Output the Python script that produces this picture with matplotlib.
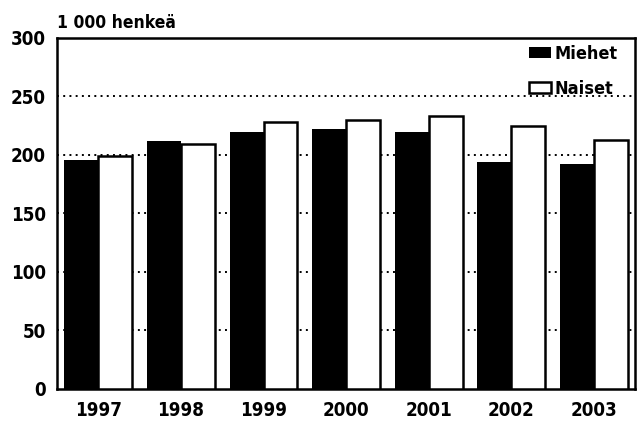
import matplotlib
matplotlib.use("Agg")
import matplotlib.pyplot as plt
import numpy as np

plt.rcParams['font.family'] = ['DejaVu Sans']
plt.rcParams['font.stretch'] = 'condensed'

years = ['1997', '1998', '1999', '2000', '2001', '2002', '2003']
miehet = [196, 212, 220, 222, 220, 194, 192]
naiset = [199, 209, 228, 230, 233, 225, 213]
yticks = [0, 50, 100, 150, 200, 250, 300]

fig = plt.figure(figsize=(6.41, 4.26), dpi=100)
ax = fig.add_axes([0.089, 0.087, 0.902, 0.824])

x = np.arange(len(years))
w = 0.41
ax.bar(x - w / 2, miehet, w, color='black', edgecolor='black', linewidth=0, label='Miehet', zorder=3)
ax.bar(x + w / 2, naiset, w, color='white', edgecolor='black', linewidth=1.8, label='Naiset', zorder=3)

ax.set_xlim(-0.5, len(years) - 0.5)
ax.set_ylim(0, 300)
ax.set_yticks(yticks)
ax.set_xticks(x)
ax.set_xticklabels(years)
ax.tick_params(axis='x', length=0, labelsize=13.5, pad=9)
ax.tick_params(axis='y', length=0, labelsize=13.5, pad=8)
for t in ax.get_yticklabels() + ax.get_xticklabels():
    t.set_fontweight('bold')

# dotted gridlines behind the bars
for y in yticks[1:-1]:
    ax.axhline(y, color='black', linestyle=(0, (1, 2.2)), linewidth=1.4, zorder=1)

for s in ax.spines.values():
    s.set_linewidth(1.8)

ax.text(0.0, 1.028, '1 000 henkeä', transform=ax.transAxes, fontsize=12.5,
        fontweight='bold', ha='left', va='baseline')

leg = ax.legend(loc='upper right', bbox_to_anchor=(0.97, 0.98), frameon=False,
                fontsize=13, handlelength=1.2, handleheight=0.6, handletextpad=0.2,
                labelspacing=0.95, borderaxespad=0, borderpad=0)
for t in leg.get_texts():
    t.set_fontweight('bold')

fig.savefig('out.png', dpi=100)
